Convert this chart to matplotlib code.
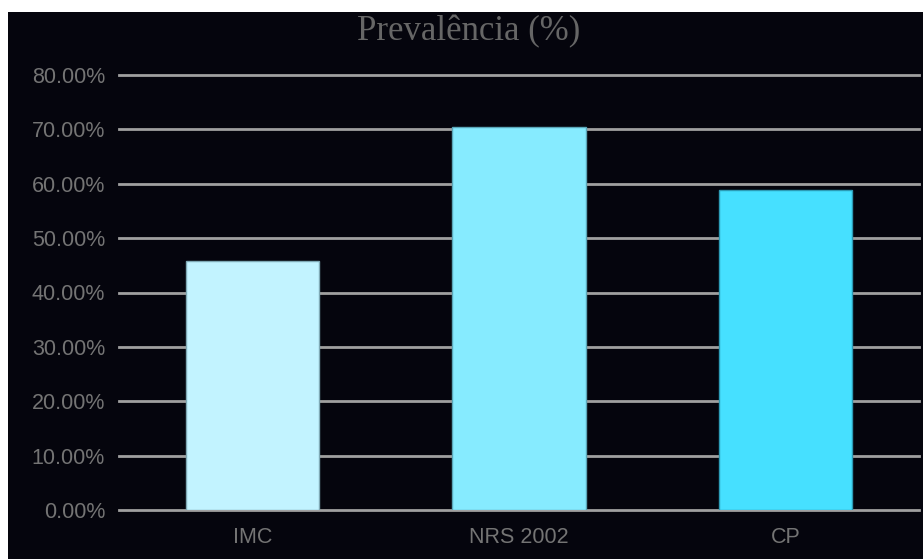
#! /usr/bin/env python3

import matplotlib
matplotlib.use("Agg")
from matplotlib import pyplot as plt
from matplotlib.patches import Rectangle
from matplotlib.ticker import FuncFormatter, MultipleLocator

categories = ["IMC", "NRS 2002", "CP"]
prevalence = [45.8, 70.4, 58.8]
bar_colors = ["#c2f3ff", "#86ebff", "#46e0ff"]
edge_colors = ["#7fa9b5", "#5aa6b8", "#2c9bb5"]

W, H = 923, 559
BG = "#05050d"

fig = plt.figure(figsize = (W / 100, H / 100), dpi = 100, facecolor = "white")
fig.patches.append(Rectangle((8 / W, 0), 1 - 8 / W, (H - 12) / H,
                             transform = fig.transFigure, facecolor = BG,
                             edgecolor = "none", zorder = -10))

ax = fig.add_axes([119 / W, (H - 510) / H, 800 / W, 435 / H])
ax.set_facecolor(BG)
ax.patch.set_alpha(0)

x = range(len(categories))
ax.bar(x, prevalence, width = 0.5, color = bar_colors,
       edgecolor = edge_colors, linewidth = 1.0, zorder = 3)

ax.set_xlim(-0.5, 2.5)
ax.set_ylim(0, 80)
ax.yaxis.set_major_locator(MultipleLocator(10))
ax.yaxis.set_major_formatter(FuncFormatter(lambda v, p: "%.2f%%" % v))
ax.set_xticks(list(x))
ax.set_xticklabels(categories)

for v in range(0, 90, 10):
    ax.axhline(v, color = "#a0a0a0", linewidth = 2.0, zorder = 1, clip_on = False)

for s in ax.spines.values():
    s.set_visible(False)

ax.tick_params(axis = "both", length = 0, colors = "#747474")
ax.tick_params(axis = "y", pad = 10)
ax.tick_params(axis = "x", pad = 12)
for lbl in ax.get_yticklabels() + ax.get_xticklabels():
    lbl.set_family("Liberation Sans")
    lbl.set_fontsize(15.5)

fig.text(469 / W, 1 - 32 / H, "Prevalência (%)", ha = "center", va = "center",
         family = "Liberation Serif", fontsize = 25, color = "#666666")

fig.savefig("out.png", dpi = 100, facecolor = fig.get_facecolor())
